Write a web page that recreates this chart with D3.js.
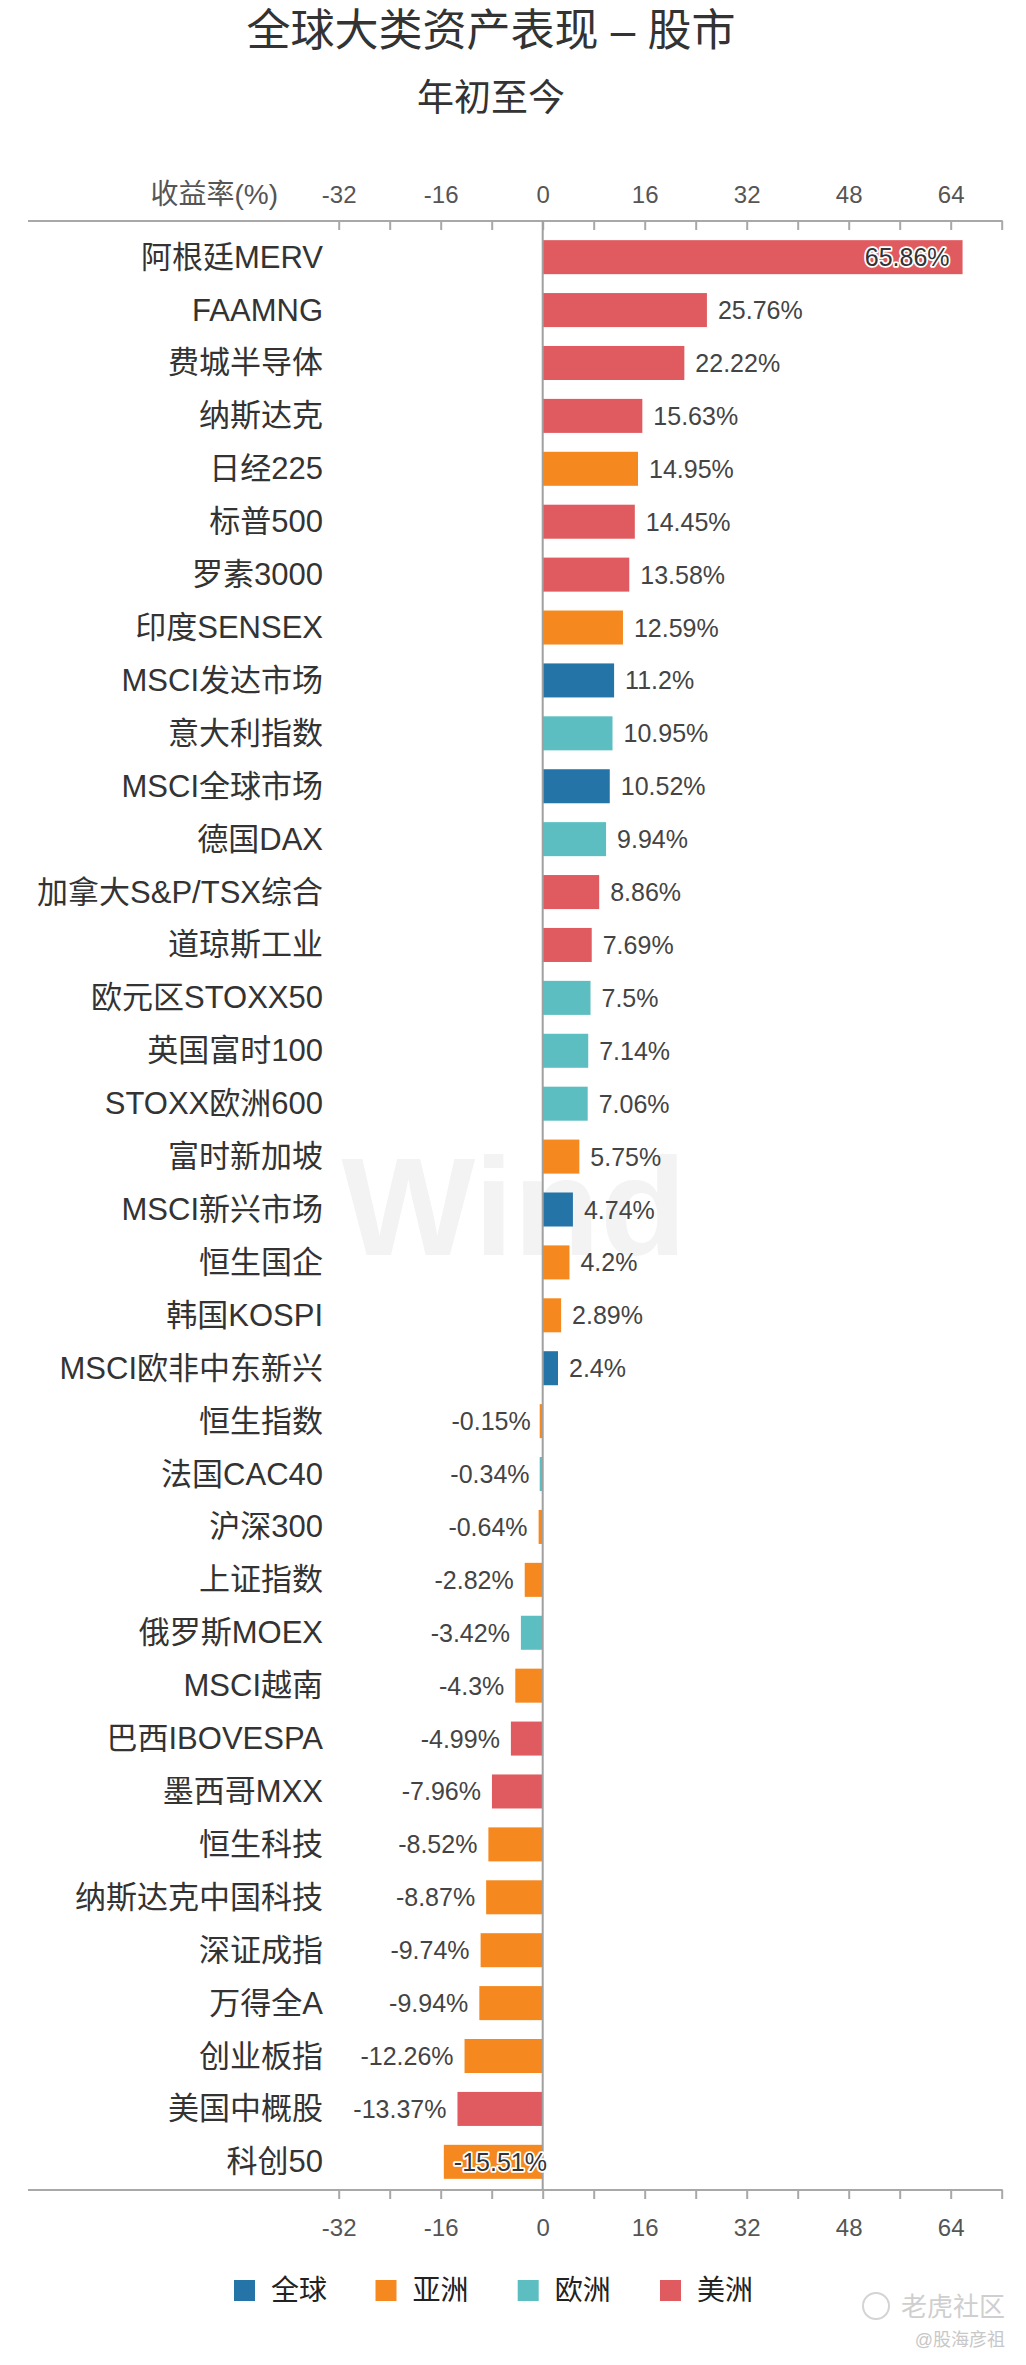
<!DOCTYPE html>
<html>
<head>
<meta charset="utf-8">
<script src="https://cdn.jsdelivr.net/npm/d3@7/dist/d3.min.js"></script>
<style>
  html, body { margin: 0; padding: 0; background: #ffffff; }
  svg { display: block; }
  text { font-family: "Liberation Sans", Arial, "Noto Sans CJK SC", sans-serif; }
</style>
</head>
<body>
<svg id="chart" width="1026" height="2365"></svg>
<script>
// ---------------- data ----------------
const titleText = "全球大类资产表现 – 股市";
const subtitleText = "年初至今";
const axisName = "收益率(%)";

const categories = [
  "阿根廷MERV", "FAAMNG", "费城半导体", "纳斯达克", "日经225", "标普500", "罗素3000",
  "印度SENSEX", "MSCI发达市场", "意大利指数", "MSCI全球市场", "德国DAX", "加拿大S&P/TSX综合",
  "道琼斯工业", "欧元区STOXX50", "英国富时100", "STOXX欧洲600", "富时新加坡", "MSCI新兴市场",
  "恒生国企", "韩国KOSPI", "MSCI欧非中东新兴", "恒生指数", "法国CAC40", "沪深300", "上证指数",
  "俄罗斯MOEX", "MSCI越南", "巴西IBOVESPA", "墨西哥MXX", "恒生科技", "纳斯达克中国科技",
  "深证成指", "万得全A", "创业板指", "美国中概股", "科创50"
];
const values = [
  65.86, 25.76, 22.22, 15.63, 14.95, 14.45, 13.58,
  12.59, 11.2, 10.95, 10.52, 9.94, 8.86,
  7.69, 7.5, 7.14, 7.06, 5.75, 4.74,
  4.2, 2.89, 2.4, -0.15, -0.34, -0.64, -2.82,
  -3.42, -4.3, -4.99, -7.96, -8.52, -8.87,
  -9.74, -9.94, -12.26, -13.37, -15.51
];
const regions = [
  "美洲", "美洲", "美洲", "美洲", "亚洲", "美洲", "美洲",
  "亚洲", "全球", "欧洲", "全球", "欧洲", "美洲",
  "美洲", "欧洲", "欧洲", "欧洲", "亚洲", "全球",
  "亚洲", "亚洲", "全球", "亚洲", "欧洲", "亚洲", "亚洲",
  "欧洲", "亚洲", "美洲", "美洲", "亚洲", "亚洲",
  "亚洲", "亚洲", "亚洲", "美洲", "亚洲"
];
const legendLabels = ["全球", "亚洲", "欧洲", "美洲"];
const legendColors = ["#2574a8", "#f5891f", "#5cbec0", "#e05b5f"];
const tickValues = [-32, -24, -16, -8, 0, 8, 16, 24, 32, 40, 48, 56, 64, 72];
const labeledTicks = [-32, -16, 0, 16, 32, 48, 64];
const xDomain = [-32, 72];

// ---------------- layout ----------------
const W = 1026, H = 2365;
const svg = d3.select("#chart");
const FONT_CAT = 31, FONT_VAL = 25, FONT_TICK = 24;

svg.append("rect").attr("width", W).attr("height", H).attr("fill", "#ffffff");

const x = d3.scaleLinear().domain(xDomain).range([338.7, 1001.7]);
const y = d3.scaleBand().domain(categories).range([224.5, 2194.5])
  .paddingInner(0.357).paddingOuter(0.296);
const color = d3.scaleOrdinal().domain(legendLabels).range(legendColors);

const topY = 221, bottomY = 2190, lineLeft = 28;

// watermark
svg.append("text")
  .attr("x", 514).attr("y", 1206)
  .attr("text-anchor", "middle").attr("dominant-baseline", "central")
  .attr("font-size", 140).attr("font-weight", "bold")
  .attr("textLength", 345).attr("lengthAdjust", "spacingAndGlyphs")
  .attr("fill", "#f3f3f3")
  .text("Wind");

// titles
svg.append("text")
  .attr("x", 491).attr("y", 30)
  .attr("text-anchor", "middle").attr("dominant-baseline", "central")
  .attr("font-size", 44).attr("fill", "#333333")
  .text(titleText);
svg.append("text")
  .attr("x", 491).attr("y", 98.5)
  .attr("text-anchor", "middle").attr("dominant-baseline", "central")
  .attr("font-size", 37).attr("fill", "#333333")
  .text(subtitleText);

// axis name
svg.append("text")
  .attr("x", 278).attr("y", 194)
  .attr("text-anchor", "end").attr("dominant-baseline", "central")
  .attr("font-size", 28).attr("fill", "#555555")
  .text(axisName);

// axes
const fmt = d => labeledTicks.includes(d) ? String(d) : "";
const topAxis = d3.axisTop(x).tickValues(tickValues).tickFormat(fmt)
  .tickSizeInner(-9).tickSizeOuter(0).tickPadding(26);
const bottomAxis = d3.axisBottom(x).tickValues(tickValues).tickFormat(fmt)
  .tickSizeInner(9).tickSizeOuter(0).tickPadding(29);

function styleAxis(g) {
  g.select(".domain").remove();
  g.selectAll(".tick line").attr("stroke", "#a8a8a8").attr("stroke-width", 2);
  g.selectAll(".tick text").attr("font-size", FONT_TICK).attr("fill", "#555555")
    .attr("font-family", null).attr("dy", "0.35em");
}
const gTop = svg.append("g").attr("transform", `translate(0,${topY})`).call(topAxis);
styleAxis(gTop);
const gBot = svg.append("g").attr("transform", `translate(0,${bottomY})`).call(bottomAxis);
styleAxis(gBot);

[topY, bottomY].forEach(yy => {
  svg.append("line")
    .attr("x1", lineLeft).attr("x2", x(xDomain[1]) + 1)
    .attr("y1", yy).attr("y2", yy)
    .attr("stroke", "#a8a8a8").attr("stroke-width", 2);
});

// category labels
svg.append("g").selectAll("text").data(categories).join("text")
  .attr("x", 323).attr("y", d => y(d) + y.bandwidth() / 2)
  .attr("text-anchor", "end").attr("dominant-baseline", "central")
  .attr("font-size", FONT_CAT).attr("fill", "#333333")
  .text(d => d);

// bars
const MIN_W = 3;
const data = categories.map((c, i) => ({ c, v: values[i], r: regions[i] }));
svg.append("g").selectAll("rect").data(data).join("rect")
  .attr("x", d => d.v >= 0 ? x(0) : Math.min(x(d.v), x(0) - MIN_W))
  .attr("y", d => y(d.c))
  .attr("width", d => Math.max(Math.abs(x(d.v) - x(0)), MIN_W))
  .attr("height", y.bandwidth())
  .attr("fill", d => color(d.r));

// zero line
svg.append("line")
  .attr("x1", x(0)).attr("x2", x(0)).attr("y1", topY).attr("y2", bottomY)
  .attr("stroke", "#a0a0a0").attr("stroke-width", 2);

// value labels
const gLab = svg.append("g");
const EDGE = 10;
data.forEach(d => {
  const t = gLab.append("text")
    .attr("y", y(d.c) + y.bandwidth() / 2)
    .attr("dominant-baseline", "central")
    .attr("font-size", FONT_VAL).attr("fill", "#444444")
    .text(d.v + "%");
  const w = t.node().getComputedTextLength();
  const xe = x(d.v);
  const halo = sel => sel.attr("stroke", "#ffffff").attr("stroke-width", 3.5)
    .attr("paint-order", "stroke").attr("stroke-linejoin", "round").attr("fill", "#333333");
  if (d.v >= 0) {
    if (xe + 11 + w <= x(xDomain[1]) - EDGE) {
      t.attr("x", xe + 11).attr("text-anchor", "start");
    } else {
      t.attr("x", xe - 13).attr("text-anchor", "end").call(halo);
    }
  } else {
    if (xe - 11 - w >= x(xDomain[0]) + EDGE) {
      t.attr("x", xe - 11).attr("text-anchor", "end");
    } else {
      t.attr("x", xe + 10).attr("text-anchor", "start").call(halo);
    }
  }
});

// legend
const legendX = [234, 375.5, 517.7, 660];
const lg = svg.append("g").selectAll("g").data(legendLabels).join("g")
  .attr("transform", (d, i) => `translate(${legendX[i]},2280)`);
lg.append("rect").attr("width", 21).attr("height", 21).attr("fill", d => color(d));
lg.append("text").attr("x", 37).attr("y", 10.5)
  .attr("dominant-baseline", "central").attr("font-size", 28).attr("fill", "#222222")
  .text(d => d);

// bottom-right watermark
svg.append("circle").attr("cx", 876).attr("cy", 2306).attr("r", 13)
  .attr("fill", "none").attr("stroke", "#d4d4d4").attr("stroke-width", 2);
svg.append("text").attr("x", 1005).attr("y", 2307)
  .attr("text-anchor", "end").attr("dominant-baseline", "central")
  .attr("font-size", 26).attr("fill", "#cfcfcf").text("老虎社区");
svg.append("text").attr("x", 1005).attr("y", 2340)
  .attr("text-anchor", "end").attr("dominant-baseline", "central")
  .attr("font-size", 18).attr("fill", "#c8c8c8").text("@股海彦祖");
</script>
</body>
</html>
